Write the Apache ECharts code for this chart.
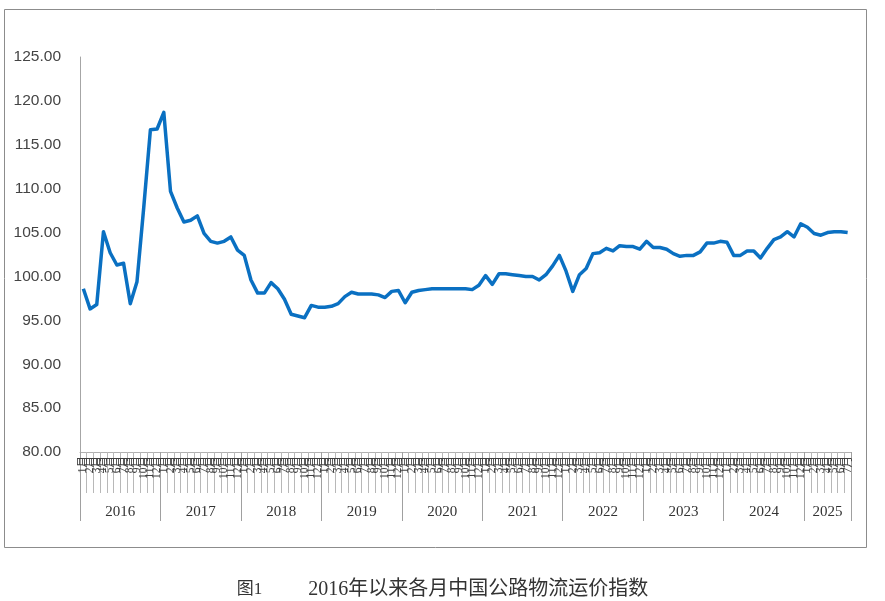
<!DOCTYPE html>
<html>
<head>
<meta charset="utf-8">
<script src="https://cdn.jsdelivr.net/npm/echarts@6/dist/echarts.min.js"></script>
<style>
html,body{margin:0;padding:0;background:#fff;}
#chart{width:885px;height:601px;}
</style>
</head>
<body>
<div id="chart"></div>
<script>
// ---- data ----
const years = ['2016','2017','2018','2019','2020','2021','2022','2023','2024','2025'];
const y2016 = [98.6, 96.3, 96.8, 105.1, 102.7, 101.3, 101.5, 96.9, 99.4, 107.8, 116.7, 116.8];
const y2017 = [118.7, 109.7, 107.8, 106.2, 106.4, 106.9, 104.9, 104.0, 103.8, 104.0, 104.5, 103.0];
const y2018 = [102.4, 99.6, 98.1, 98.1, 99.3, 98.6, 97.4, 95.7, 95.5, 95.3, 96.7, 96.5];
const y2019 = [96.5, 96.6, 96.9, 97.7, 98.2, 98.0, 98.0, 98.0, 97.9, 97.6, 98.3, 98.4];
const y2020 = [97.0, 98.2, 98.4, 98.5, 98.6, 98.6, 98.6, 98.6, 98.6, 98.6, 98.5, 99.0];
const y2021 = [100.1, 99.1, 100.3, 100.3, 100.2, 100.1, 100.0, 100.0, 99.6, 100.2, 101.2, 102.4];
const y2022 = [100.6, 98.3, 100.2, 100.9, 102.6, 102.7, 103.2, 102.9, 103.5, 103.4, 103.4, 103.1];
const y2023 = [104.0, 103.3, 103.3, 103.1, 102.6, 102.3, 102.4, 102.4, 102.8, 103.8, 103.8, 104.0];
const y2024 = [103.9, 102.4, 102.4, 102.9, 102.9, 102.1, 103.2, 104.2, 104.5, 105.1, 104.5, 106.0];
const y2025 = [105.6, 104.9, 104.7, 105.0, 105.1, 105.1, 105.0];
const yearValues = [y2016, y2017, y2018, y2019, y2020, y2021, y2022, y2023, y2024, y2025];
const yTicks = [80, 85, 90, 95, 100, 105, 110, 115, 120, 125];
const caption = '图1';
const captionMain = '2016年以来各月中国公路物流运价指数';

// ---- build categories ----
const monthLabels = [];
const yearOfMonth = [];
const values = [];
const yearStart = [];
const yearLabelIdx = {};
yearValues.forEach((arr, yi) => {
  yearStart.push(monthLabels.length);
  const mid = arr.length >= 12 ? 5 : Math.floor(arr.length / 2);
  yearLabelIdx[monthLabels.length + mid] = arr.length % 2 === 0 ? 'e' : 'o';
  arr.forEach((v, mi) => {
    monthLabels.push((mi + 1) + '月');
    yearOfMonth.push(years[yi]);
    values.push(v);
  });
});

const chart = echarts.init(document.getElementById('chart'));
chart.setOption({
  animation: false,
  backgroundColor: '#fff',
  grid: { left: 80, right: 34, top: 57, bottom: 149, containLabel: false },
  graphic: [{
    type: 'rect', z: -1, silent: true,
    shape: { x: 4.5, y: 9.5, width: 862, height: 538 },
    style: { fill: 'none', stroke: '#8c8c8c', lineWidth: 1 }
  }],
  title: {
    left: 'center', top: 575,
    text: '{a|' + caption + '}{g|}{b|' + captionMain + '}',
    textStyle: {
      fontWeight: 'normal',
      rich: {
        a: { fontFamily: 'Liberation Serif, Noto Sans CJK SC', fontSize: 17, fontWeight: 'normal', color: '#333' },
        g: { width: 46 },
        b: { fontFamily: 'Liberation Serif, Noto Sans CJK SC', fontSize: 20, fontWeight: 'normal', color: '#333' }
      }
    }
  },
  xAxis: [{
    type: 'category',
    data: monthLabels,
    boundaryGap: true,
    axisLine: { show: true, lineStyle: { color: '#b0b0b0', width: 1 } },
    axisTick: { show: true, interval: 0, length: 41, lineStyle: { color: '#b8b8b8' } },
    axisLabel: {
      interval: 0, rotate: 90, margin: 4,
      fontFamily: 'Liberation Serif, Noto Sans CJK SC', fontSize: 11.5, color: '#404040'
    }
  }, {
    type: 'category',
    data: yearOfMonth,
    position: 'bottom',
    boundaryGap: true,
    axisLine: { show: false },
    axisTick: {
      show: true, length: 69,
      interval: function (index) { return yearStart.indexOf(index) >= 0; },
      lineStyle: { color: '#a0a0a0' }
    },
    axisLabel: {
      margin: 53,
      interval: function (index) { return yearLabelIdx[index] !== undefined; },
      formatter: function (value, index) {
        return yearLabelIdx[index] === 'e' ? '{e|' + value + '}' : '{o|' + value + '}';
      },
      rich: {
        e: { fontFamily: 'Liberation Serif', fontSize: 15, color: '#333', padding: [0, 0, 0, 7] },
        o: { fontFamily: 'Liberation Serif', fontSize: 15, color: '#333' }
      }
    }
  }],
  yAxis: {
    type: 'value',
    min: 80, max: 125, interval: 5,
    axisLine: { show: true, lineStyle: { color: '#a6a6a6' } },
    axisTick: { show: false },
    splitLine: { show: false },
    axisLabel: {
      margin: 19,
      fontFamily: 'Liberation Sans', fontSize: 15.5, color: '#444',
      formatter: function (v) { return yTicks.indexOf(v) >= 0 ? v.toFixed(2) : ''; }
    }
  },
  series: [{
    type: 'line',
    xAxisIndex: 0,
    data: values,
    symbol: 'none',
    smooth: false,
    lineStyle: { color: '#0a70c2', width: 3.5, join: 'round' }
  }]
});
</script>
</body>
</html>
